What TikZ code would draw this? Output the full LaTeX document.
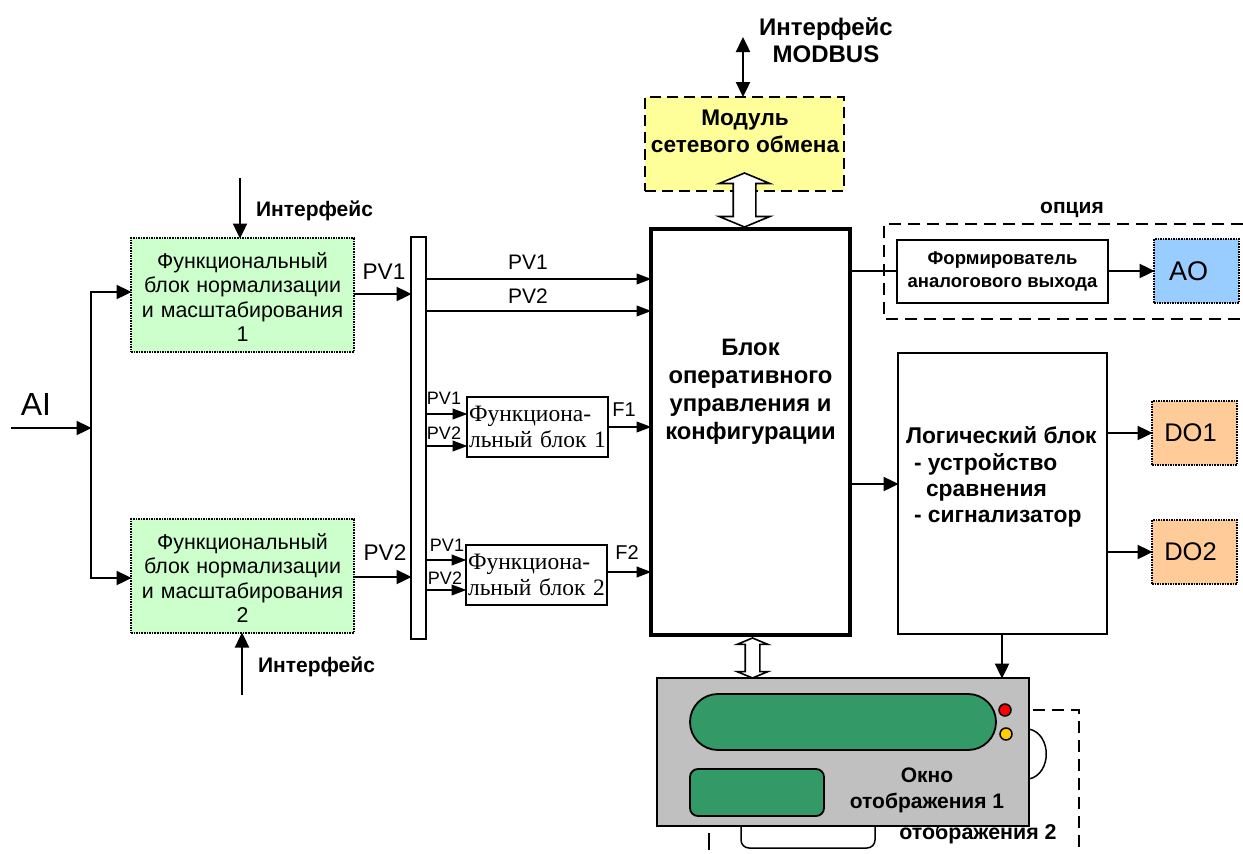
\documentclass[tikz,border=0pt]{standalone}
\usepackage{fontspec}
\setmainfont{Liberation Sans}
\newfontfamily\serifcyr{Liberation Serif}
\usetikzlibrary{arrows.meta,shapes.arrows,calc}
\definecolor{normgreen}{HTML}{CCFFCC}
\definecolor{netyellow}{HTML}{FFFF99}
\definecolor{aoblue}{HTML}{99CCFF}
\definecolor{doorange}{HTML}{FFCC99}
\definecolor{panelgray}{HTML}{C0C0C0}
\definecolor{lcdgreen}{HTML}{339966}
\definecolor{ledyellow}{HTML}{FFCC00}
\newcommand{\fs}[1]{\fontsize{#1}{#1}\selectfont}
\tikzset{
  x=1pt,y=-1pt,
  box/.style={draw=black,line width=1.6pt,fill=white,inner sep=0pt,outer sep=0pt,anchor=north west,align=center},
  normbox/.style={box,draw=black,densely dotted,line width=1.2pt,fill=normgreen,minimum width=223pt,minimum height=114pt,font=\fs{21.4},text width=215pt},
  outbox/.style={box,densely dotted,line width=1.4pt,minimum width=85pt,minimum height=64pt,font=\fs{25.5}},
  funcbox/.style={box,line width=1.5pt,font=\serifcyr\fs{23.5},minimum width=141pt,minimum height=60pt,align=left},
  lbl/.style={inner sep=0pt,outer sep=0pt,align=center},
  conn/.style={line width=2.4pt,-{Triangle[length=15pt,width=10.5pt]},shorten >=-0.5pt},
  connb/.style={line width=2.4pt,-{Triangle[length=15pt,width=14pt]},shorten >=-0.5pt},
  plainline/.style={line width=2.4pt},
  hollow/.style={double arrow,draw=black,line width=1.6pt,fill=white,inner sep=0pt,outer sep=0pt,rotate=90,double arrow tip angle=135,double arrow head indent=0pt,text depth=0pt},
  dashline/.style={line width=1.5pt,dash pattern=on 12pt off 7pt},
}
\begin{document}
\begin{tikzpicture}
\useasboundingbox (0,0) rectangle (1243,854);
% background parts of the second display (partly hidden)
\node[lbl,font=\bfseries\fs{21.4}] (t2) at (978,834) {отображения 2};
\coordinate (d2a) at (1033,710); \coordinate (d2b) at (1079,710); \coordinate (d2c) at (1079,854);
\draw[dashline] (d2a) -- (d2b) -- (d2c);
\coordinate (d2d) at (709,833); \coordinate (d2e) at (709,850);
\draw[line width=1.5pt] (d2d) -- (d2e);
\coordinate (knobA) at (741,822); \coordinate (knobB) at (875,822);
\draw[line width=1.5pt,rounded corners=8pt] (knobA) -- (741,848) -- (875,848) -- (knobB);
\coordinate (arcA) at (1029,729); \coordinate (arcB) at (1029,779);
\draw[line width=1.5pt] (arcA) .. controls (1052,734) and (1052,774) .. (arcB);
% blocks
\node[normbox] (n1) at (131,238) {\rule{0pt}{20pt}Функциональный\\[3pt]блок нормализации\\[3pt]и масштабирования\\[3pt]1};
\node[normbox] (n2) at (131,519) {\rule{0pt}{20pt}Функциональный\\[3pt]блок нормализации\\[3pt]и масштабирования\\[3pt]2};
\node[box,minimum width=15pt,minimum height=402pt] (bus) at (411,237) {};
\node[box,line width=3.6pt,minimum width=199pt,minimum height=406pt] (main) at (651,229) {};
\node[lbl,font=\bfseries\fs{23.8}] (maint) at (750.5,392) {Блок\\[4.2pt]оперативного\\[4.2pt]управления и\\[4.2pt]конфигурации};
\node[box,draw=black,dash pattern=on 11pt off 6pt,line width=1.5pt,fill=netyellow,minimum width=199pt,minimum height=94pt] (net) at (645,97) {};
\node[lbl,font=\bfseries\fs{22.6}] (nett) at (745,131.5) {Модуль\\[4.4pt]сетевого обмена};
\node[funcbox] (f1) at (467,397) {\spaceskip=0.33em Функциона-\\[2.5pt]\spaceskip=0.33em льный блок 1};
\node[funcbox] (f2) at (466,545) {\spaceskip=0.33em Функциона-\\[2.5pt]\spaceskip=0.33em льный блок 2};
\node[box,minimum width=211pt,minimum height=63pt,font=\bfseries\fs{18.5}] (form) at (897,240) {Формирователь\\[4pt]аналогового выхода};
\node[outbox,fill=aoblue] (ao) at (1154,239) {\fs{27}AO\hspace*{16pt}};
\node[box,minimum width=209pt,minimum height=281pt] (logic) at (898,353) {};
\node[lbl,font=\bfseries\fs{22.8},anchor=west,align=left] (logict) at (906,477) {Логический блок\\[4pt]\hspace*{8pt}- устройство\\[3.5pt]\hspace*{20pt}сравнения\\[3.5pt]\hspace*{8pt}- сигнализатор};
\node[outbox,fill=doorange] (do1) at (1152,401) {DO1\hspace*{8pt}};
\node[outbox,fill=doorange] (do2) at (1152,520) {DO2\hspace*{8pt}};
% display panel
\node[box,line width=2pt,fill=panelgray,minimum width=372pt,minimum height=148pt] (panel) at (657,678) {};
\node[box,line width=1.8pt,fill=lcdgreen,rounded corners=27.9pt,minimum width=306pt,minimum height=56pt] (lcd1) at (690,694) {};
\node[box,line width=1.8pt,fill=lcdgreen,rounded corners=8pt,minimum width=134pt,minimum height=47pt] (lcd2) at (690,769) {};
\node[circle,draw=black,line width=1.5pt,fill=red,minimum size=12pt,inner sep=0pt] (ledr) at (1005,710) {};
\node[circle,draw=black,line width=1.5pt,fill=ledyellow,minimum size=12pt,inner sep=0pt] (ledy) at (1006,734) {};
\node[lbl,font=\bfseries\fs{21}] (win) at (927,790) {Окно\\[5pt]отображения 1};
% option frame
\coordinate (optA) at (1243,224); \coordinate (optB) at (884,224); \coordinate (optC) at (884,319); \coordinate (optD) at (1243,319);
\draw[dashline] (optA) -- (optB) -- (optC) -- (optD);
% labels
\node[lbl,font=\bfseries\fs{24}] (modbus) at (826,40) {Интерфейс\\[2.5pt]MODBUS};
\node[lbl,font=\bfseries\fs{21}] (if1) at (314.5,211) {Интерфейс};
\node[lbl,font=\bfseries\fs{21}] (if2) at (316.5,667) {Интерфейс};
\node[lbl,font=\bfseries\fs{21}] (opt) at (1072,210) {опция};
\node[lbl,font=\fs{32}] (ai) at (36,404) {AI};
\node[lbl,font=\fs{22.6}] (p1) at (384,272) {PV1};
\node[lbl,font=\fs{22.6}] (p2) at (385,553) {PV2};
\node[lbl,font=\fs{21}] (a1) at (528,262) {PV1};
\node[lbl,font=\fs{21}] (a2) at (528,296) {PV2};
\node[lbl,font=\fs{18}] (s1) at (444,398) {PV1};
\node[lbl,font=\fs{18}] (s2) at (444,433) {PV2};
\node[lbl,font=\fs{18}] (s3) at (447,545) {PV1};
\node[lbl,font=\fs{18}] (s4) at (445,578) {PV2};
\node[lbl,font=\fs{20}] (lf1) at (624,410) {F1};
\node[lbl,font=\fs{20}] (lf2) at (627,553) {F2};
% connectors
\coordinate (aiS) at (11,428); \coordinate (tr) at (91,428);
\coordinate (trT) at (91,292); \coordinate (trB) at (91,578);
\draw[connb] (aiS) -- (tr);
\draw[plainline,line cap=rect] (tr) -- (trT);
\draw[plainline,line cap=rect] (tr) -- (trB);
\draw[connb] (trT) -- (n1.west |- trT);
\draw[connb] (trB) -- (n2.west |- trB);
\coordinate (i1) at (240,178); \draw[connb] (i1) -- (i1 |- n1.north);
\coordinate (i2) at (242,695); \draw[connb] (i2) -- (i2 |- n2.south);
\draw[connb] (n1.east |- 0,294) -- (bus.west |- 0,294);
\draw[connb] (n2.east |- 0,577) -- (bus.west |- 0,577);
\draw[conn] (bus.east |- 0,279) -- (main.west |- 0,279);
\draw[conn] (bus.east |- 0,311) -- (main.west |- 0,311);
\draw[conn] (bus.east |- 0,414) -- (f1.west |- 0,414);
\draw[conn] (bus.east |- 0,446) -- (f1.west |- 0,446);
\draw[conn] (bus.east |- 0,560) -- (f2.west |- 0,560);
\draw[conn] (bus.east |- 0,590) -- (f2.west |- 0,590);
\draw[conn] (f1.east |- 0,427) -- (main.west |- 0,427);
\draw[conn] (f2.east |- 0,572) -- (main.west |- 0,572);
\draw[plainline] (main.east |- 0,271) -- (form.west |- 0,271);
\draw[connb] (form.east |- 0,271) -- (ao.west |- 0,271);
\draw[connb] (main.east |- 0,484) -- (logic.west |- 0,484);
\draw[connb] (logic.east |- 0,433) -- (do1.west |- 0,433);
\draw[connb] (logic.east |- 0,552) -- (do2.west |- 0,552);
\draw[connb] (logic.south -| 1002,0) -- (panel.north -| 1002,0);
\coordinate (mb) at (743,37);
\draw[line width=2.4pt,{Triangle[length=15pt,width=14pt]}-{Triangle[length=15pt,width=14pt]}] (mb) -- (mb |- net.north);
\node[hollow,minimum height=54pt,minimum width=49pt,text height=21pt,double arrow head extend=14pt] (h1) at (744.5,200) {};
\node[hollow,minimum height=40pt,minimum width=29pt,text height=13pt,double arrow head extend=8pt] (h2) at (752.5,658) {};
\end{tikzpicture}
\end{document}
